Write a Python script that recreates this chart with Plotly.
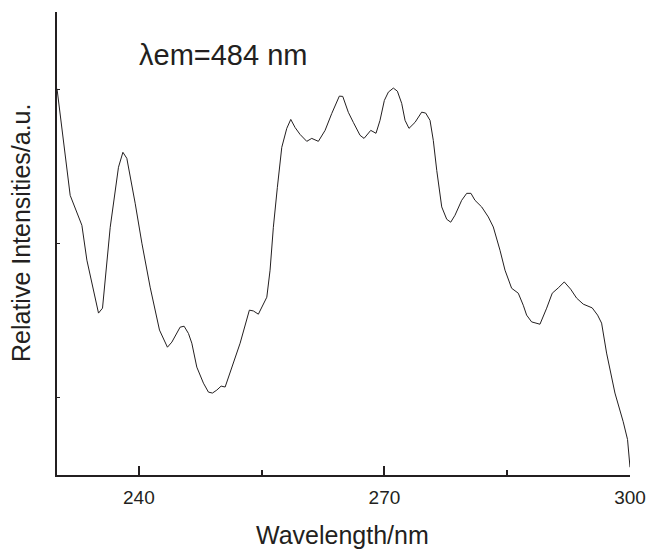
import plotly.graph_objects as go

# Excitation spectrum, wavelength in nm, intensity in arbitrary units
wavelength = [
    230.00, 231.61, 233.04, 233.65, 235.07, 235.56, 236.50, 237.51, 238.05, 238.53,
    239.55, 240.37, 241.38, 242.52, 243.49, 244.03, 245.04, 245.53, 246.06, 246.47,
    247.08, 247.89, 248.50, 248.99, 249.52, 250.05, 250.54, 251.35, 252.37, 253.50,
    253.99, 254.60, 255.63, 256.03, 256.43, 256.92, 257.46, 258.07, 258.56, 259.08,
    259.69, 260.51, 261.12, 261.93, 262.75, 263.57, 264.49, 264.91, 265.59, 266.20,
    267.02, 267.51, 268.33, 268.97, 269.46, 269.99, 270.48, 271.09, 271.58, 272.11,
    272.52, 273.00, 273.74, 274.55, 275.04, 275.57, 275.97, 276.39, 277.00, 277.61,
    278.10, 278.62, 279.44, 280.05, 280.57, 281.06, 281.88, 282.69, 283.30, 284.12,
    284.73, 285.54, 286.35, 286.96, 287.37, 287.98, 289.00, 289.82, 290.50, 291.23,
    291.97, 292.75, 293.48, 294.29, 295.38, 296.04, 296.53, 297.14, 298.16, 299.17,
    299.70, 300.00,
]
intensity = [
    2503, 1812, 1618, 1392, 1049, 1081, 1605, 1994, 2091, 2052,
    1761, 1502, 1217, 939, 828, 861, 958, 964, 917, 854,
    699, 595, 537, 531, 550, 576, 570, 699, 854, 1068,
    1063, 1042, 1152, 1327, 1605, 1864, 2123, 2246, 2304, 2252,
    2207, 2162, 2181, 2162, 2233, 2343, 2455, 2453, 2350, 2285,
    2201, 2181, 2233, 2214, 2298, 2427, 2481, 2507, 2487, 2408,
    2298, 2246, 2285, 2351, 2345, 2298, 2168, 1974, 1737, 1657,
    1638, 1683, 1780, 1825, 1825, 1780, 1737, 1672, 1607, 1456,
    1327, 1210, 1178, 1100, 1036, 992, 977, 1081, 1178, 1212,
    1251, 1204, 1146, 1107, 1083, 1036, 984, 790, 531, 345,
    230, 50,
]

x_tickvals = [240, 270, 300]
x_ticktext = ["240", "270", "300"]
x_minor_ticks = [255, 285]
y_tickvals = [500, 1500, 2500]

x_title = "Wavelength/nm"
y_title = "Relative Intensities/a.u."
inset_label = "λem=484 nm"

INK = "#231f20"
FONT = "Liberation Sans, Arial, Helvetica, sans-serif"

fig = go.Figure()
fig.add_trace(go.Scatter(
    x=wavelength, y=intensity, mode="lines",
    line=dict(color=INK, width=1), showlegend=False, hoverinfo="skip",
))

fig.update_layout(
    width=649, height=549,
    margin=dict(l=57, r=19, t=12, b=74, autoexpand=False),
    paper_bgcolor="white", plot_bgcolor="white",
    font=dict(family=FONT, color=INK),
    xaxis=dict(
        range=[230, 300], showgrid=False, zeroline=False, automargin=False,
        showline=True, linecolor=INK, linewidth=1.6,
        tickmode="array", tickvals=x_tickvals, ticktext=x_ticktext,
        ticks="inside", ticklen=9, tickwidth=1.6, tickcolor=INK,
        tickfont=dict(size=19, family=FONT, color=INK),
        ticklabelstandoff=4,
        minor=dict(tickvals=x_minor_ticks, ticks="inside", ticklen=5,
                   tickwidth=1.6, tickcolor=INK, showgrid=False),
    ),
    yaxis=dict(
        range=[0, 3000], showgrid=False, zeroline=False, automargin=False,
        showline=True, linecolor=INK, linewidth=1.6,
        tickmode="array", tickvals=y_tickvals, showticklabels=False,
        ticks="inside", ticklen=3, tickwidth=1.2, tickcolor=INK,
    ),
    annotations=[
        dict(text=inset_label, xref="paper", yref="paper",
             x=0.1396, y=0.907, xanchor="left", yanchor="middle",
             showarrow=False, font=dict(size=29, family=FONT, color=INK)),
        dict(text=x_title, xref="paper", yref="paper",
             x=0.4974, y=-0.1296, xanchor="center", yanchor="middle",
             showarrow=False, font=dict(size=25, family=FONT, color=INK)),
        dict(text=y_title, xref="paper", yref="paper", textangle=-90,
             x=-0.0628, y=0.5227, xanchor="center", yanchor="middle",
             showarrow=False, font=dict(size=25, family=FONT, color=INK)),
    ],
)

fig.write_html(
    "out.html",
    config={"displayModeBar": False},
    post_script="document.body.style.margin='0';document.body.style.overflow='hidden';",
)
